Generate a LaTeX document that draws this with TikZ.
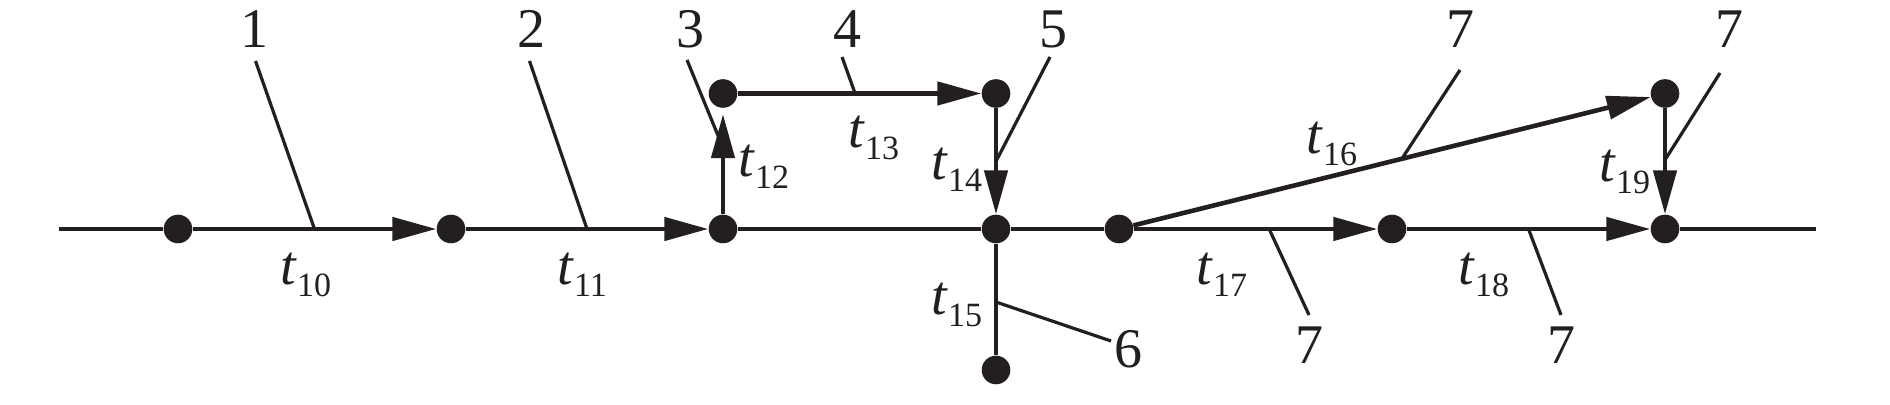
\documentclass[tikz,border=0pt]{standalone}
\usepackage{fontspec}
\setmainfont{Liberation Serif}
\usepackage{tikz}
\usetikzlibrary{arrows.meta,calc}
\definecolor{ink}{HTML}{231F20}
\newcommand\tlab[1]{\textit{t}\raisebox{-6pt}{\fontsize{17}{17}\selectfont #1}}

\begin{document}
\begin{tikzpicture}[x=0.5pt,y=0.5pt,
	dot/.style={circle,fill=ink,inner sep=0,minimum size=14.3pt},
	lbl/.style={inner sep=0,text=ink,font=\fontsize{28}{30}\selectfont},
	tl/.style={lbl,anchor=base west},
	pipe/.style={draw=ink,line width=2.3pt},
	arr/.style={pipe,-{Triangle[length=22pt,width=11.5pt]}},
	lead/.style={draw=ink,line width=1.6pt}]
	\newcommand\ym{176}
	\newcommand\yu{311.5}
	\useasboundingbox (0,0) rectangle (1890,405);

	% nodes
	\coordinate (s) at (59,\ym);
	\coordinate (e) at (1816,\ym);
	\node[dot] (a1) at (178,\ym) {};
	\node[dot] (a2) at (451,\ym) {};
	\node[dot] (a3) at (723,\ym) {};
	\node[dot] (a4) at (996,\ym) {};
	\node[dot] (a5) at (1119,\ym) {};
	\node[dot] (a6) at (1392,\ym) {};
	\node[dot] (a7) at (1665,\ym) {};
	\node[dot] (b3) at (723,\yu) {};
	\node[dot] (b4) at (996,\yu) {};
	\node[dot] (b7) at (1665,\yu) {};
	\node[dot] (c4) at (996,35) {};

	% pipes
	\draw[pipe] (s) -- (a1);
	\draw[arr] (a1) -- (a2);
	\draw[arr] (a2) -- (a3);
	\draw[pipe] (a3) -- (a4) -- (a5);
	\draw[arr,shorten >=3pt] (a3) -- (b3);
	\draw[arr] (b3) -- (b4);
	\draw[arr] (b4) -- (a4);
	\draw[pipe] (a4) -- (c4);
	\draw[arr] (a5) -- (b7);
	\draw[arr] (a5) -- (a6);
	\draw[arr] (a6) -- (a7);
	\draw[arr] (b7) -- (a7);
	\draw[pipe] (a7) -- (e);

	% t labels
	\node[tl] (t10) at (280,120) {\tlab{10}};
	\node[tl] (t11) at (557,120) {\tlab{11}};
	\node[tl] (t12) at (738,228) {\tlab{12}};
	\node[tl] (t13) at (848,257) {\tlab{13}};
	\node[tl] (t14) at (931,225) {\tlab{14}};
	\node[tl] (t15) at (931,90) {\tlab{15}};
	\node[tl] (t16) at (1306,251) {\tlab{16}};
	\node[tl] (t17) at (1196,120) {\tlab{17}};
	\node[tl] (t18) at (1458,120) {\tlab{18}};
	\node[tl] (t19) at (1599,223) {\tlab{19}};

	% numbers and leaders
	\node[lbl] (n1) at (254,376) {1};
	\node[lbl] (n2) at (531,376) {2};
	\node[lbl] (n3) at (690,376) {3};
	\node[lbl] (n4) at (847,376) {4};
	\node[lbl] (n5) at (1053,376) {5};
	\node[lbl] (n6) at (1128,56) {6};
	\node[lbl] (n7a) at (1460,376) {7};
	\node[lbl] (n7b) at (1729,376) {7};
	\node[lbl] (n7c) at (1309,60) {7};
	\node[lbl] (n7d) at (1561,60) {7};
	\coordinate (l1) at (255.5,344);
	\coordinate (l2) at (529.5,344);
	\coordinate (l3) at (687,345);
	\coordinate (l4) at (842,348);
	\coordinate (l5) at (1050,348);
	\coordinate (l6) at (1111,64);
	\coordinate (l7a) at (1460,335);
	\coordinate (l7b) at (1720,332);
	\coordinate (l7c) at (1309,90);
	\coordinate (l7d) at (1561,90);
	\draw[lead] (l1) -- ($(a1)!0.5!(a2)$);
	\draw[lead] (l2) -- ($(a2)!0.5!(a3)$);
	\draw[lead] (l3) -- ($(a3)!0.6!(b3)$);
	\draw[lead] (l4) -- ($(b3)!0.484!(b4)$);
	\draw[lead] (l5) -- ($(b4)!0.5!(a4)$);
	\draw[lead] (l6) -- ($(a4)!0.518!(c4)$);
	\draw[lead] (l7a) -- ($(a5)!0.518!(b7)$);
	\draw[lead] (l7b) -- ($(b7)!0.49!(a7)$);
	\draw[lead] (l7c) -- ($(a5)!0.55!(a6)$);
	\draw[lead] (l7d) -- ($(a6)!0.5!(a7)$);
\end{tikzpicture}
\end{document}
